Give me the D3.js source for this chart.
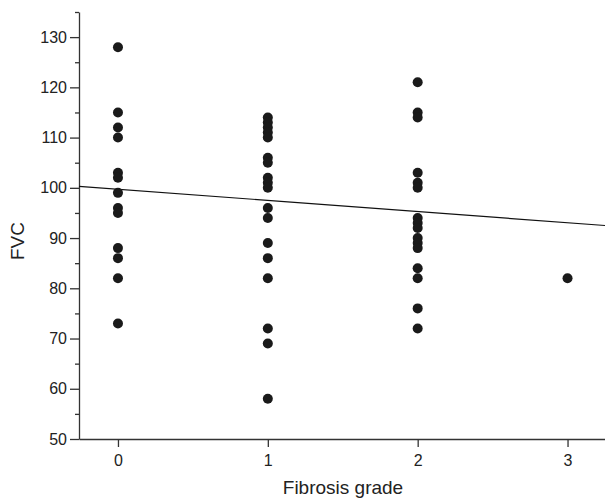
<!DOCTYPE html>
<html>
<head>
<meta charset="utf-8">
<script src="https://cdn.jsdelivr.net/npm/d3@7"></script>
<style>
  body { margin: 0; background: #fff; }
  svg { font-family: "Liberation Sans", Arial, sans-serif; }
  .axis path, .axis line { stroke: #333; stroke-width: 1.3; }
  .axis text { font-size: 16px; fill: #222; font-family: "Liberation Sans", Arial, sans-serif; }
</style>
</head>
<body>
<svg width="605" height="498"></svg>
<script>
// fibrosis grade groups and FVC values
var grade0 = [128, 115, 112, 110, 103, 102, 99, 96, 95, 88, 86, 82, 73];
var grade1 = [114, 113, 112, 111, 110, 106, 105, 102, 101, 100, 96, 94, 89, 86, 82, 72, 69, 58];
var grade2 = [121, 115, 114, 103, 101, 100, 94, 93, 92, 90, 89, 88, 84, 82, 76, 72];
var grade3 = [82];

// regression line end values (at left and right edge of the plot)
var fitX = [-0.26, 3.25];
var fitY = [100.3, 92.5];

var xTicks = [0, 1, 2, 3];
var yTicks = [50, 60, 70, 80, 90, 100, 110, 120, 130];
var yMinor = [55, 65, 75, 85, 95, 105, 115, 125, 135];

var svg = d3.select('svg');

var x = d3.scaleLinear().domain([-0.26, 3.25]).range([79, 605]);
var y = d3.scaleLinear().domain([50, 135]).range([439, 12]);

// build points list
var points = [];
[grade0, grade1, grade2, grade3].forEach(function(vals, g) {
  vals.forEach(function(v) { points.push({g: g, v: v}); });
});

// minor y ticks
svg.append('g')
  .attr('class', 'axis')
  .attr('transform', 'translate(79,0)')
  .call(d3.axisLeft(y).tickValues(yMinor).tickSize(4).tickFormat(''))
  .call(g => g.select('.domain').remove());

// y axis
svg.append('g')
  .attr('class', 'axis')
  .attr('transform', 'translate(79,0)')
  .call(d3.axisLeft(y).tickValues(yTicks).tickSize(9).tickSizeOuter(0).tickPadding(3));

// x axis
svg.append('g')
  .attr('class', 'axis')
  .attr('transform', 'translate(0,439)')
  .call(d3.axisBottom(x).tickValues(xTicks).tickFormat(d3.format('d'))
    .tickSize(8).tickSizeOuter(0).tickPadding(8));

// regression line
svg.append('line')
  .attr('x1', x(fitX[0])).attr('y1', y(fitY[0]))
  .attr('x2', x(fitX[1])).attr('y2', y(fitY[1]))
  .attr('stroke', '#111')
  .attr('stroke-width', 1.2);

// points
svg.selectAll('circle').data(points)
  .enter().append('circle')
    .attr('cx', d => x(d.g))
    .attr('cy', d => y(d.v))
    .attr('r', 5)
    .attr('fill', '#1a1a1a');

// axis titles
svg.append('text')
  .attr('x', 343).attr('y', 494)
  .attr('text-anchor', 'middle')
  .style('font-size', '19px').attr('fill', '#222')
  .text('Fibrosis grade');

svg.append('text')
  .attr('transform', 'translate(24,241) rotate(-90)')
  .attr('text-anchor', 'middle')
  .style('font-size', '19px').attr('fill', '#222')
  .text('FVC');
</script>
</body>
</html>
